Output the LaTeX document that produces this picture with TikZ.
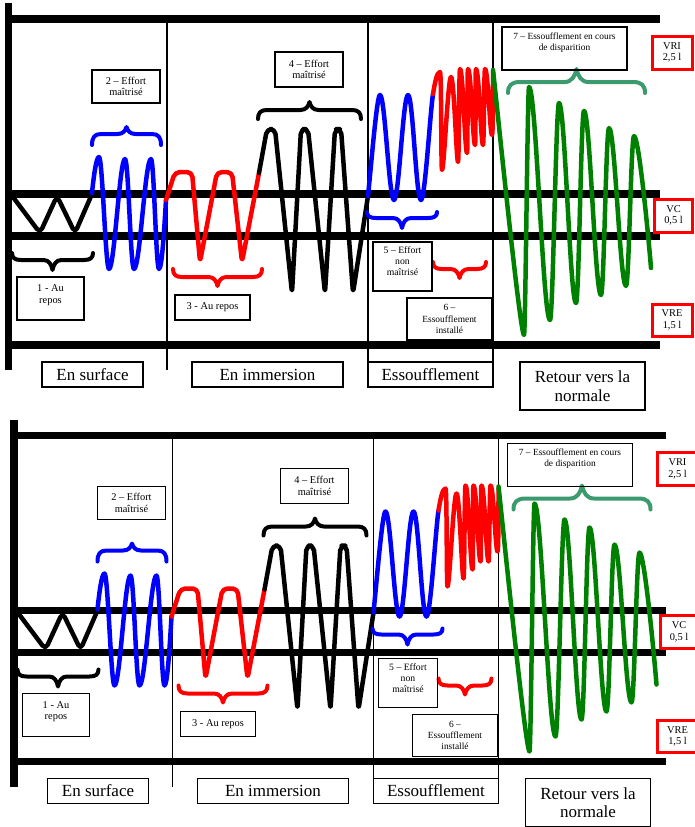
\documentclass[tikz,border=0pt]{standalone}
\usepackage{fontspec}
\setmainfont{Liberation Serif}
\definecolor{bracegreen}{RGB}{60,155,110}
\definecolor{wgreen}{RGB}{0,128,0}
\tikzset{
 framel/.style={line width=7.5pt},
 vline/.style={line width=1.2pt},
 wave/.style={line width=4.5pt, line join=round, line cap=round},
 brc/.style={line width=4pt, line cap=round, line join=round},
 sbox/.style={draw, line width=1.4pt, inner sep=0pt, align=center, font=\fontsize{10.4}{11.5}\selectfont},
 stxt/.style={inner sep=0pt, align=center, font=\fontsize{9.4}{11.2}\selectfont},
 lbox/.style={draw, line width=1.4pt, inner sep=0pt, align=center, font=\fontsize{17}{18.5}\selectfont},
 rbox/.style={draw=red, line width=3pt, inner sep=0pt, align=center, font=\fontsize{10.4}{11.5}\selectfont},
}
% #1 style, #2 xa, #3 xb, #4 y ends, #5 y line, #6 y tip, #7 hook width
\newcommand\mybrace[7]{%
 \draw[brc,#1] (#2,#4) .. controls (#2,{#5+0.3*(#4-#5)}) and ({#2+0.3*#7},#5) .. ({#2+#7},#5)
 -- ({(#2+#3)/2-#7},#5) .. controls ({(#2+#3)/2-0.4*#7},#5) and ({(#2+#3)/2-0.12*#7},{#5+0.45*(#6-#5)}) .. ({(#2+#3)/2},#6)
 .. controls ({(#2+#3)/2+0.12*#7},{#5+0.45*(#6-#5)}) and ({(#2+#3)/2+0.4*#7},#5) .. ({(#2+#3)/2+#7},#5)
 -- ({#3-#7},#5) .. controls ({#3-0.3*#7},#5) and (#3,{#5+0.3*(#4-#5)}) .. (#3,#4);}
\newcommand\drawpanel{%
 \draw[framel] (8.5,3) -- (8.5,370);
 \foreach \yy in {19,194,236,345} \draw[framel] (8.5,\yy) -- (660,\yy);
 \draw[vline] (167,19) -- (167,370);
 \draw[vline] (368,19) -- (368,387);
 \draw[vline] (493,19) -- (493,387);
 % 1 black rest
 \draw[wave, rounded corners=5pt] (13,197) -- (40,233) -- (57,196) -- (75,233) -- (92,194);
 % 2 blue
 \draw[wave, blue] (92,193) .. controls +(2,-20) and +(-2.5,0) .. (99,157)
  .. controls +(3.5,0) and +(-3.5,0) .. (109,269)
  .. controls +(5.5,0) and +(-5.5,0) .. (125,159)
  .. controls +(3.5,0) and +(-3.5,0) .. (134,269)
  .. controls +(6,0) and +(-6,0) .. (151,159)
  .. controls +(3,0) and +(-3,0) .. (159,269)
  .. controls +(3,0) and +(-1.5,25) .. (166,200);
 % 3 red
 \draw[wave, red, rounded corners=5pt] (166,200) -- (175,172) -- (192,172) -- (200,262) -- (217,172) -- (232,172) -- (242,262) -- (259,173);
 % 4 black
 \draw[wave, rounded corners=5pt] (259,173) -- (267,129) -- (275,129) -- (292,293) -- (301,129) -- (308,129) -- (325,293) -- (335,129) -- (341,129) -- (353,293) -- (368,196);
 % 5 blue
 \draw[wave, blue] (368,196) .. controls +(4,-40) and +(-3,0) .. (380,95)
  .. controls +(5,0) and +(-5,0) .. (394,200)
  .. controls +(5,0) and +(-5,0) .. (408,95)
  .. controls +(5,0) and +(-5,0) .. (421,200)
  .. controls +(4,0) and +(-3,20) .. (433,94);
 % 6 red
 \draw[wave, red] (433,94) .. controls +(2,-12) and +(-3,0) .. (440,72)
  .. controls +(1.5,0) and +(-1,0) .. (442,170)
  .. controls +(2,0) and +(-3,0) .. (451,77)
  .. controls +(3,0) and +(-1.5,0) .. (458,162)
  .. controls +(1,0) and +(-1,0) .. (460,69)
  .. controls +(3,0) and +(-2,0) .. (467,153)
  .. controls +(1,0) and +(-1,0) .. (468,69)
  .. controls +(3,0) and +(-2,0) .. (475,145)
  .. controls +(1,0) and +(-1,0) .. (476,69)
  .. controls +(3,0) and +(-2,0) .. (483,145)
  .. controls +(1,0) and +(-1,0) .. (485,69)
  .. controls +(3,0) and +(-2,0) .. (492,135)
  .. controls +(1,0) and +(0,20) .. (493,72);
 % 7 green
 \draw[wave, wgreen] (493,70) .. controls +(3,26) and +(-4,0) .. (524,335)
  .. controls +(1.5,0) and +(-1.5,0) .. (529,87)
  .. controls +(7,0) and +(-7,0) .. (550,320)
  .. controls +(3,0) and +(-3,0) .. (559,103)
  .. controls +(6,0) and +(-6,0) .. (576,303)
  .. controls +(3,0) and +(-3,0) .. (584,111)
  .. controls +(6,0) and +(-6,0) .. (601,295)
  .. controls +(3,0) and +(-3,0) .. (609,128)
  .. controls +(6,0) and +(-6,0) .. (626,286)
  .. controls +(3,0) and +(-3,0) .. (634,136)
  .. controls +(5,0) and +(-2,-25) .. (651,268);
 % braces
 \mybrace{blue}{92}{161}{145}{134}{127}{9}
 \mybrace{black}{258}{361}{119}{110}{102}{9}
 \mybrace{bracegreen}{508}{645}{93}{82}{69}{12}
 \mybrace{black}{12}{93}{253}{260}{270}{9}
 \mybrace{red}{173}{262}{269}{277}{286}{9}
 \mybrace{blue}{367}{437}{212}{218}{228}{9}
 \mybrace{red}{433}{486}{262}{269}{278}{9}
 % phase labels
 \node[lbox, minimum width=101, minimum height=25] (surf) at (92.5,374.5) {En surface};
 \node[lbox, minimum width=151, minimum height=25] (imm) at (267.5,374.5) {En immersion};
 \node[lbox, minimum width=125, minimum height=25] (ess) at (430.5,374.5) {Essoufflement};
 \node[lbox, minimum width=125, minimum height=48] (ret) at (582.5,386) {Retour vers la\\normale};
 % volumes
 \node[rbox, minimum width=40, minimum height=33] (vri) at (672,52.5) {VRI\\2,5 l};
 \node[rbox, minimum width=38, minimum height=33] (vc) at (673.5,215.5) {VC\\0,5 l};
 \node[rbox, minimum width=40, minimum height=32] (vre) at (672,320) {VRE\\1,5 l};
 % stage boxes
 \node[sbox, minimum width=68, minimum height=33] (b2) at (126,86.5) {2 – Effort\\maîtrisé};
 \node[sbox, minimum width=68, minimum height=35] (b4) at (309,69.5) {4 – Effort\\maîtrisé};
 \node[sbox, minimum width=125, minimum height=43] (b7) at (564.5,48.5) {};
 \node[stxt] (t7) at (564.5,42.5) {7 – Essoufflement en cours\\de disparition};
 \node[sbox, minimum width=67, minimum height=43] (b1) at (50.5,298.5) {};
 \node[stxt, font=\fontsize{10.4}{11.5}\selectfont] (t1) at (50.5,295) {1 - Au\\repos};
 \node[sbox, minimum width=75, minimum height=25] (b3) at (212.5,307.5) {3 - Au repos};
 \node[sbox, minimum width=59, minimum height=49] (b5) at (402.5,266.5) {};
 \node[stxt, font=\fontsize{9.7}{11}\selectfont] (t5) at (402.5,261.5) {5 – Effort\\non\\maîtrisé};
 \node[sbox, minimum width=85, minimum height=42, font=\fontsize{9.4}{11.2}\selectfont] (b6) at (449.5,319) {6 –\\Essoufflement\\installé};
}
\begin{document}
\begin{tikzpicture}[x=1pt,y=-1pt]
\useasboundingbox (0,0) rectangle (695,827);
\clip (0,0) rectangle (695,827);
\begin{scope}[name prefix=a-]
\drawpanel
\end{scope}
\begin{scope}[shift={(5.5,416.5)}, name prefix=b-]
\drawpanel
\end{scope}
\end{tikzpicture}
\end{document}
